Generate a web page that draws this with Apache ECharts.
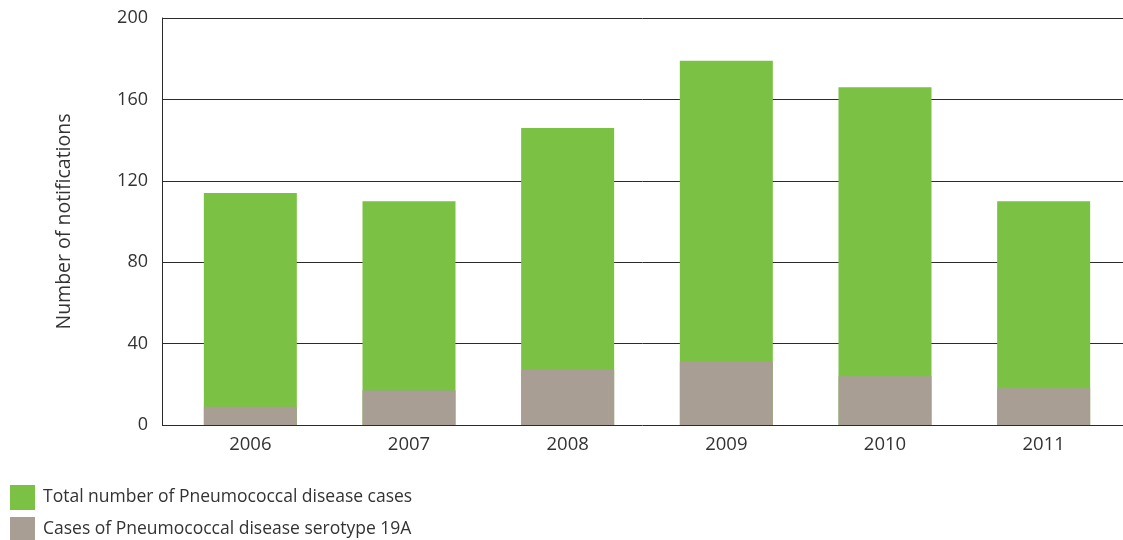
<!DOCTYPE html>
<html>
<head>
<meta charset="utf-8">
<script src="https://cdn.jsdelivr.net/npm/echarts@6/dist/echarts.min.js"></script>
<style>
  html, body { margin: 0; padding: 0; background: #fff; }
  #chart { width: 1123px; height: 540px; }
</style>
</head>
<body>
<div id="chart"></div>
<script>
const years = ['2006', '2007', '2008', '2009', '2010', '2011'];
const totalCases = [114, 110, 146, 179, 166, 110];
const serotype19A = [9, 17, 27, 31, 24, 18];
const yTicks = { min: 0, max: 200, interval: 40 };

const font = 'Open Sans';
const textColor = '#333';
const lineColor = '#2b2b2b';

const myChart = echarts.init(document.getElementById('chart'));
myChart.setOption({
  animation: false,
  textStyle: { fontFamily: font },
  legend: {
    orient: 'vertical',
    left: 10,
    top: 485,
    height: 120,
    padding: 0,
    itemWidth: 25,
    itemHeight: 25,
    itemGap: 7,
    icon: 'rect',
    textStyle: { color: textColor, fontSize: 17.5, fontFamily: font, padding: [0, 0, 0, 3] },
    data: ['Total number of Pneumococcal disease cases', 'Cases of Pneumococcal disease serotype 19A']
  },
  // grid 0 carries the y axis and horizontal lines, grid 1 the bars
  grid: [
    { left: 162, right: 0, top: 18, bottom: 115 },
    { left: 171, right: -1, top: 18, bottom: 115 }
  ],
  xAxis: [
    { gridIndex: 0, type: 'category', data: years, show: false },
    {
      gridIndex: 1,
      type: 'category',
      data: years,
      axisLine: { show: false },
      axisTick: { show: false },
      axisLabel: { color: textColor, fontSize: 18.5, margin: 10, fontFamily: font }
    }
  ],
  yAxis: [
    {
      gridIndex: 0,
      type: 'value',
      min: yTicks.min,
      max: yTicks.max,
      interval: yTicks.interval,
      name: 'Number of notifications',
      nameLocation: 'middle',
      nameRotate: 90,
      nameGap: 88,
      nameTextStyle: { color: textColor, fontSize: 19.5, fontFamily: font },
      axisLine: { show: true, lineStyle: { color: lineColor, width: 1 } },
      axisTick: { show: false },
      axisLabel: { color: textColor, fontSize: 18, margin: 14, fontFamily: font },
      splitLine: { show: true, lineStyle: { color: lineColor, width: 1 } }
    },
    {
      gridIndex: 1,
      type: 'value',
      min: yTicks.min,
      max: yTicks.max,
      interval: yTicks.interval,
      show: false,
      splitLine: { show: false }
    }
  ],
  series: [
    {
      name: 'Total number of Pneumococcal disease cases',
      type: 'bar',
      xAxisIndex: 1,
      yAxisIndex: 1,
      barWidth: 93,
      barGap: '-100%',
      itemStyle: { color: '#7bc144' },
      data: totalCases
    },
    {
      name: 'Cases of Pneumococcal disease serotype 19A',
      type: 'bar',
      xAxisIndex: 1,
      yAxisIndex: 1,
      barWidth: 93,
      barGap: '-100%',
      itemStyle: { color: '#a89e94' },
      data: serotype19A
    }
  ]
});
window.onresize = function () {
  myChart.resize();
};
</script>
</body>
</html>
